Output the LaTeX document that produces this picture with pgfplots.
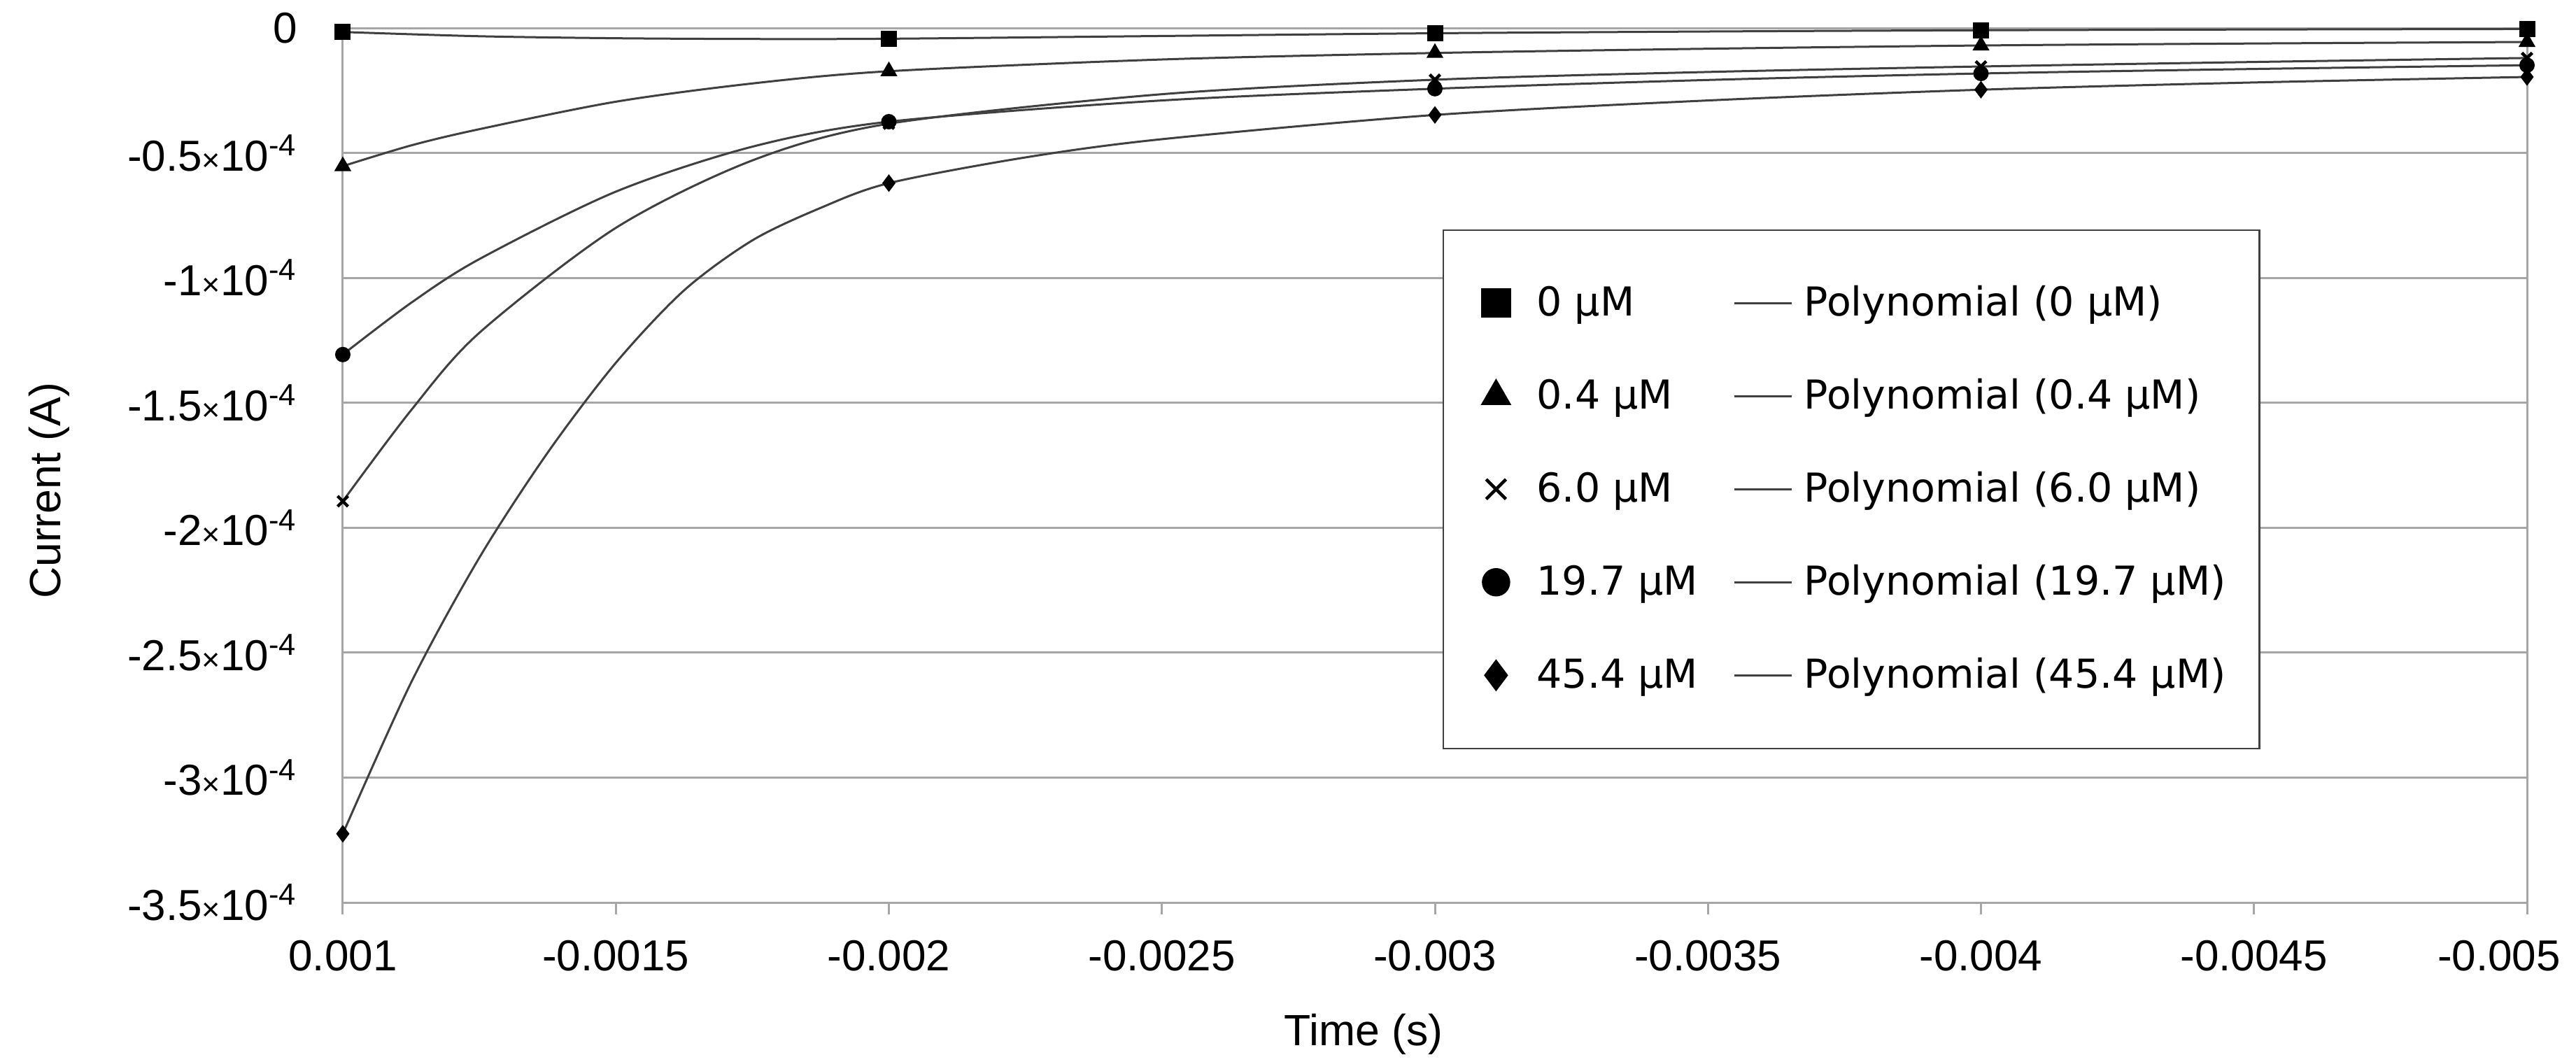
\documentclass[border=0pt]{standalone}
\usepackage{fontspec}
\setmainfont{Liberation Sans}
\newfontfamily\dejavu{DejaVu Sans}
\usepackage{pgfplots}
\usepackage{pgfplotstable}
\pgfplotsset{compat=1.18}

\pgfplotstableread{
x y
1 -0.016
2 -0.042
3 -0.020
4 -0.009
5 -0.005
}\dA
\pgfplotstableread{
x y
1 -0.553
2 -0.173
3 -0.100
4 -0.070
5 -0.056
}\dB
\pgfplotstableread{
x y
1 -1.894
2 -0.383
3 -0.207
4 -0.154
5 -0.120
}\dC
\pgfplotstableread{
x y
1 -1.307
2 -0.375
3 -0.243
4 -0.182
5 -0.149
}\dD
\pgfplotstableread{
x y
1 -3.225
2 -0.621
3 -0.348
4 -0.247
5 -0.196
}\dE

\newcommand{\tl}[1]{#1{\fontsize{9}{9}\selectfont ×}10\textsuperscript{-4}}

\pgfplotsset{
 markleg/.style={legend image code/.code={\path (0pt,0pt) (13pt,0pt); \draw[##1,/tikz/every mark/.append style={scale=1.9}] plot coordinates {(5pt,0pt)};}},
 lineleg/.style={legend image code/.code={\draw[##1] (0pt,0pt) -- (16.4pt,0pt);}},
 trend/.style={smooth, tension=0.5, black!75, line width=0.6pt, lineleg},
}

\begin{document}
\begin{tikzpicture}
\path[use as bounding box] (-98pt,-45.4pt) rectangle (638.4pt,258pt);
\begin{axis}[
 at={(0,0)}, anchor=south west,
 scale only axis, width=624.4pt, height=250pt,
 xmin=1, xmax=5, ymin=-3.5, ymax=0,
 clip=false,
 axis line style={black!35, line width=0.6pt},
 xtick={1,1.5,2,2.5,3,3.5,4,4.5,5},
 xticklabels={0.001,-0.0015,-0.002,-0.0025,-0.003,-0.0035,-0.004,-0.0045,\hspace*{-16pt}-0.005},
 ytick={-3.5,-3,-2.5,-2,-1.5,-1,-0.5,0},
 yticklabels={\tl{-3.5},\tl{-3},\tl{-2.5},\tl{-2},\tl{-1.5},\tl{-1},\tl{-0.5},\raisebox{-2pt}{0}},
 ymajorgrids,
 major grid style={black!35, line width=0.6pt},
 tick align=outside,
 xtick pos=bottom,
 ytick style={draw=none},
 xtick style={black!35, line width=0.6pt},
 major tick length=3.4pt,
 tick label style={font=\fontsize{12.4}{14}\selectfont},
 xticklabel style={yshift=-4pt},
 yticklabel style={xshift=-6pt},
 xlabel={Time (s)}, ylabel={Current (A)},
 label style={font=\fontsize{12.5}{15}\selectfont},
 xlabel style={at={(axis description cs:0.4673,-0.1504)}, anchor=center},
 ylabel style={at={(axis description cs:-0.1345,0.471)}, anchor=center},
 legend columns=2,
 legend style={
  at={(axis description cs:0.5035,0.770)}, anchor=north west,
  draw=black!75, line width=0.5pt, fill=white,
  font=\dejavu\fontsize{11.4}{13}\selectfont,
  inner xsep=9.6pt, inner ysep=14.9pt,
  row sep=14.6pt,
  nodes={inner sep=0pt, text height=9.6pt, text depth=2.4pt},
  cells={anchor=west},
  /tikz/every odd column/.append style={column sep=3.2pt},
  /tikz/every even column/.append style={column sep=10.1pt},
 },
]
\addplot[only marks, mark=square*, mark size=2.1pt, black, markleg] table {\dA};
\addlegendentry{0 µM}
\addplot[trend] coordinates {(1,-0.016)(1.25,-0.033)(1.5,-0.041)(1.75,-0.044)(2,-0.043)(2.5,-0.032)(3,-0.021)(3.5,-0.014)(4,-0.009)(4.5,-0.006)(5,-0.004)};
\addlegendentry{Polynomial (0 µM)}

\addplot[only marks, mark=triangle*, mark size=2.4pt, black, markleg] table {\dB};
\addlegendentry{0.4 µM}
\addplot[trend] coordinates {(1,-0.553)(1.125,-0.47)(1.25,-0.405)(1.5,-0.295)(1.75,-0.222)(2,-0.173)(2.5,-0.126)(3,-0.100)(3.5,-0.083)(4,-0.070)(4.5,-0.062)(5,-0.056)};
\addlegendentry{Polynomial (0.4 µM)}

\addplot[only marks, mark=x, mark size=2.1pt, line width=0.9pt, black, markleg] table {\dC};
\addlegendentry{6.0 µM}
\addplot[trend] coordinates {(1,-1.894)(1.125,-1.53)(1.25,-1.22)(1.5,-0.80)(1.75,-0.53)(2,-0.383)(2.5,-0.265)(3,-0.207)(3.5,-0.176)(4,-0.154)(4.5,-0.136)(5,-0.120)};
\addlegendentry{Polynomial (6.0 µM)}

\addplot[only marks, mark=*, mark size=2pt, black, markleg] table {\dD};
\addlegendentry{19.7 µM}
\addplot[trend] coordinates {(1,-1.307)(1.125,-1.10)(1.25,-0.925)(1.5,-0.655)(1.75,-0.475)(2,-0.375)(2.5,-0.290)(3,-0.243)(3.5,-0.208)(4,-0.182)(4.5,-0.164)(5,-0.149)};
\addlegendentry{Polynomial (19.7 µM)}

\addplot[only marks, mark=diamond*, mark size=2.2pt, black, markleg] table {\dE};
\addlegendentry{45.4 µM}
\addplot[trend] coordinates {(1,-3.225)(1.125,-2.62)(1.25,-2.12)(1.375,-1.70)(1.5,-1.34)(1.625,-1.05)(1.75,-0.85)(1.875,-0.72)(2,-0.621)(2.25,-0.518)(2.5,-0.445)(3,-0.348)(3.5,-0.290)(4,-0.247)(4.5,-0.218)(5,-0.196)};
\addlegendentry{Polynomial (45.4 µM)}
\end{axis}
\end{tikzpicture}
\end{document}
